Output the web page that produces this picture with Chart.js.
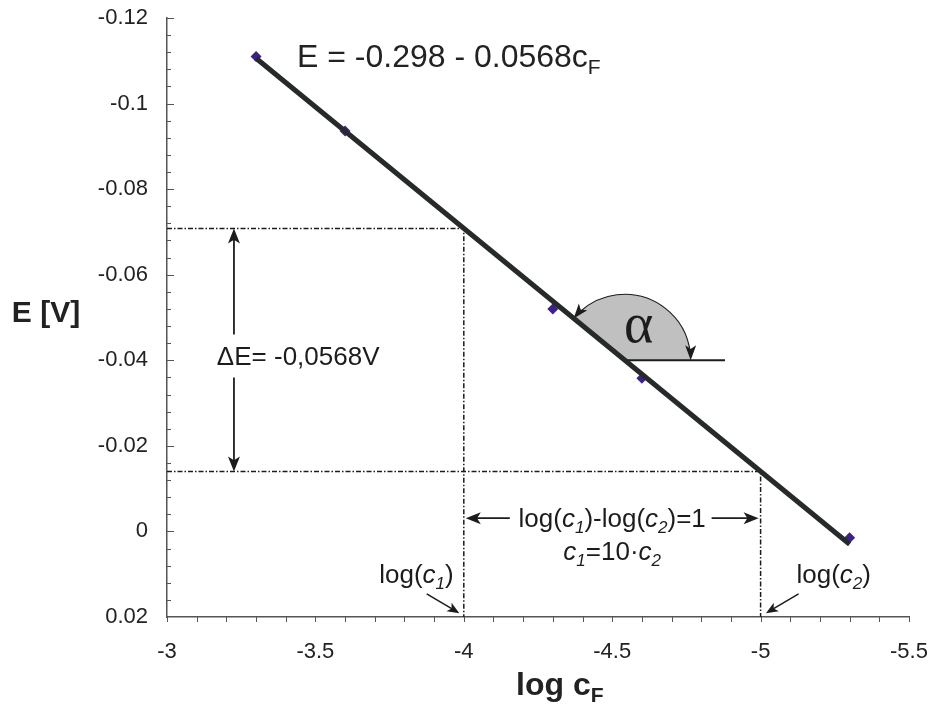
<!DOCTYPE html>
<html>
<head>
<meta charset="utf-8">
<script src="https://cdn.jsdelivr.net/npm/chart.js@4.4.1/dist/chart.umd.min.js"></script>
<style>
  body { margin: 0; background: #fff; }
</style>
</head>
<body>
<canvas id="calib" width="934" height="711"></canvas>
<script>
// measured points (log c_F vs E)
const logC = [-3.3, -3.6, -4.3, -4.6, -5.3];
const potential = [-0.111, -0.0936, -0.052, -0.0358, 0.0015];
// ends of the fitted line E = -0.298 - 0.0568 log c_F
const fitLogC = [-3.3, -5.3];
const fitE = [-0.1106, 0.0030];
// dotted guides at log(c1) = -4 and log(c2) = -5
const guideLogC = [-4, -5];
const guideE = [-0.0708, -0.014];
// tick labels
const xTicks = [-3, -3.5, -4, -4.5, -5, -5.5];
const yTicks = [-0.12, -0.1, -0.08, -0.06, -0.04, -0.02, 0, 0.02];

const ink = "#1c1c1c";
const sans = "'Liberation Sans', Arial, sans-serif";

function head(ctx, x1, y1, x2, y2, len, w) {
    // filled arrow head with tip at x2,y2
    const a = Math.atan2(y2 - y1, x2 - x1);
    const c = Math.cos(a), s = Math.sin(a);
    ctx.beginPath();
    ctx.moveTo(x2, y2);
    ctx.lineTo(x2 - len * c + (w / 2) * s, y2 - len * s - (w / 2) * c);
    ctx.lineTo(x2 - len * 0.75 * c, y2 - len * 0.75 * s);
    ctx.lineTo(x2 - len * c - (w / 2) * s, y2 - len * s + (w / 2) * c);
    ctx.closePath();
    ctx.fill();
}

function arrow(ctx, x1, y1, x2, y2, len, w) {
    const a = Math.atan2(y2 - y1, x2 - x1);
    ctx.beginPath();
    ctx.moveTo(x1, y1);
    ctx.lineTo(x2 - len * 0.7 * Math.cos(a), y2 - len * 0.7 * Math.sin(a));
    ctx.stroke();
    head(ctx, x1, y1, x2, y2, len, w);
}

// parts: [text, italic, subscript]
function rich(ctx, parts, x, y, size, align, weight) {
    weight = weight || "normal";
    const font = (p) =>
        (p[1] ? "italic " : "") + weight + " " + Math.round(p[2] ? size * 0.65 : size) + "px " + sans;
    let total = 0;
    parts.forEach((p) => {
        ctx.font = font(p);
        total += ctx.measureText(p[0]).width;
    });
    let cx = align === "center" ? x - total / 2 : align === "right" ? x - total : x;
    ctx.textAlign = "left";
    ctx.textBaseline = "alphabetic";
    parts.forEach((p) => {
        ctx.font = font(p);
        ctx.fillText(p[0], cx, p[2] ? y + size * 0.22 : y);
        cx += ctx.measureText(p[0]).width;
    });
}

const annotations = {
    id: "annotations",
    beforeDatasetsDraw(chart) {
        const { ctx, scales } = chart;
        const X = (v) => scales.x.getPixelForValue(v);
        const Y = (v) => scales.y.getPixelForValue(v);
        const a = chart.chartArea;
        ctx.save();
        ctx.fillStyle = ink;
        ctx.strokeStyle = ink;

        // dash-dot guides
        ctx.lineWidth = 1.5;
        ctx.setLineDash([5, 2, 1.5, 2]);
        guideLogC.forEach((lc, i) => {
            ctx.beginPath();
            ctx.moveTo(a.left, Y(guideE[i]));
            ctx.lineTo(X(lc), Y(guideE[i]));
            ctx.lineTo(X(lc), a.bottom);
            ctx.stroke();
        });
        ctx.setLineDash([]);

        // angle alpha
        const cx = X(-4.542), cy = Y(-0.04), r = 66;
        const slope = Math.atan2(Y(fitE[1]) - Y(fitE[0]), X(fitLogC[1]) - X(fitLogC[0]));
        const a2 = Math.PI + slope;
        ctx.fillStyle = "#c0c0c0";
        ctx.beginPath();
        ctx.moveTo(cx, cy);
        ctx.arc(cx, cy, r, 0, a2, true);
        ctx.closePath();
        ctx.fill();
        ctx.fillStyle = ink;
        ctx.lineWidth = 1.2;
        ctx.beginPath();
        ctx.arc(cx, cy, r, -0.12, a2 + 0.14, true);
        ctx.stroke();
        head(ctx, cx + r, cy - 14, cx + r, cy, 15, 11);
        const tx = cx + r * Math.cos(a2), ty = cy + r * Math.sin(a2);
        const dx = Math.sin(a2), dy = -Math.cos(a2);
        head(ctx, tx - dx * 14, ty - dy * 14, tx, ty, 15, 11);
        ctx.lineWidth = 2;
        ctx.beginPath();
        ctx.moveTo(cx, cy);
        ctx.lineTo(X(-4.88), cy);
        ctx.stroke();
        ctx.font = "56px 'Liberation Serif', 'DejaVu Serif', serif";
        ctx.textAlign = "center";
        ctx.textBaseline = "middle";
        ctx.fillText("\u03b1", cx + 14, cy - 33);

        // delta E arrow
        ctx.lineWidth = 1.8;
        const ax = X(-3.2256);
        arrow(ctx, ax, Y(-0.046), ax, Y(guideE[0]), 15, 12);
        arrow(ctx, ax, Y(-0.036), ax, Y(guideE[1]), 15, 12);
        rich(ctx, [["\u0394E= -0,0568V"]], X(-3.168), Y(-0.0388), 26, "left");

        // log difference arrow
        const ay = Y(-0.0031);
        arrow(ctx, X(-4.155), ay, X(guideLogC[0]) + 2, ay, 15, 12);
        arrow(ctx, X(-4.835), ay, X(guideLogC[1]) - 2, ay, 15, 12);
        rich(ctx, [["log("], ["c", 1], ["1", 1, 1], [")-log("], ["c", 1], ["2", 1, 1], [")=1"]],
            X(-4.5), ay + 9, 26, "center");
        rich(ctx, [["c", 1], ["1", 1, 1], ["=10\u00b7"], ["c", 1], ["2", 1, 1]],
            X(-4.5), Y(0.0067), 26, "center");

        rich(ctx, [["log("], ["c", 1], ["1", 1, 1], [")"]], X(-3.966), Y(0.0121), 26, "right");
        rich(ctx, [["log("], ["c", 1], ["2", 1, 1], [")"]], X(-5.121), Y(0.0121), 26, "left");
        ctx.lineWidth = 1.5;
        arrow(ctx, X(-3.875), Y(0.0146), X(-3.985), Y(0.0191), 12, 10);
        arrow(ctx, X(-5.128), Y(0.0146), X(-5.018), Y(0.0191), 12, 10);

        // fit equation
        ctx.fillStyle = "#222";
        rich(ctx, [["E = -0.298 - 0.0568c"], ["F", 0, 1]], X(-3.438), Y(-0.1086), 32, "left");
        ctx.restore();
    },
    afterDraw(chart) {
        const { ctx, scales, chartArea: a } = chart;
        ctx.save();
        // small tick marks: inside on y, outside on x
        ctx.strokeStyle = "#555";
        ctx.lineWidth = 1;
        ctx.beginPath();
        const ys = yTicks.slice().sort((p, q) => p - q);
        for (let i = 0; i < ys.length - 1; i++) {
            for (let k = 0; k < 5; k++) {
                const py = Math.round(scales.y.getPixelForValue(ys[i] + ((ys[i + 1] - ys[i]) * k) / 5)) + 0.5;
                ctx.moveTo(a.left, py);
                ctx.lineTo(a.left + (k ? 4 : 7), py);
            }
        }
        const xs = xTicks.slice().sort((p, q) => p - q);
        for (let i = 0; i < xs.length; i++) {
            for (let k = 0; k < (i < xs.length - 1 ? 5 : 1); k++) {
                const v = i < xs.length - 1 ? xs[i] + ((xs[i + 1] - xs[i]) * k) / 5 : xs[i];
                const px = Math.round(scales.x.getPixelForValue(v)) + 0.5;
                ctx.moveTo(px, a.bottom);
                ctx.lineTo(px, a.bottom + 5);
            }
        }
        ctx.stroke();

        // axis titles
        ctx.fillStyle = "#222";
        ctx.font = "bold 30px " + sans;
        ctx.textAlign = "center";
        ctx.textBaseline = "middle";
        ctx.fillText("E [V]", 46, 314);
        rich(ctx, [["log c"], ["F", 0, 1]], 516, 695, 32, "left", "bold");
        ctx.restore();
    },
};

new Chart(document.getElementById("calib"), {
    type: "scatter",
    data: {
        datasets: [
            {
                type: "line",
                label: "fit",
                data: fitLogC.map((v, i) => ({ x: v, y: fitE[i] })),
                borderColor: "#262a2b",
                borderWidth: 5,
                pointRadius: 0,
                fill: false,
                order: 0,
            },
            {
                label: "E",
                data: logC.map((v, i) => ({ x: v, y: potential[i] })),
                pointStyle: "rectRot",
                pointRadius: 5.5,
                backgroundColor: "#3c2188",
                borderColor: "#3c2188",
                borderWidth: 0,
                order: 1,
            },
        ],
    },
    options: {
        responsive: false,
        animation: false,
        layout: { padding: { top: 18, right: 25, left: 0, bottom: 0 } },
        plugins: {
            legend: { display: false },
            tooltip: { enabled: false },
        },
        scales: {
            x: {
                type: "linear",
                min: -5.5,
                max: -3,
                reverse: true,
                afterBuildTicks: (s) => {
                    s.ticks = xTicks.map((v) => ({ value: v }));
                },
                afterFit: (s) => {
                    s.height = 94;
                    s.paddingLeft = 0;
                    s.paddingRight = 0;
                },
                grid: { display: false, drawTicks: false },
                border: { display: true, color: "#555", width: 1.5 },
                ticks: {
                    padding: 22,
                    color: "#222",
                    font: { family: sans, size: 22 },
                    callback: (v) => String(v),
                },
            },
            y: {
                type: "linear",
                min: -0.12,
                max: 0.02,
                reverse: true,
                afterBuildTicks: (s) => {
                    s.ticks = yTicks.map((v) => ({ value: v }));
                },
                afterFit: (s) => {
                    s.width = 167;
                    s.paddingTop = 0;
                    s.paddingBottom = 0;
                },
                grid: { display: false, drawTicks: false },
                border: { display: true, color: "#555", width: 1.5 },
                ticks: {
                    padding: 19,
                    color: "#222",
                    font: { family: sans, size: 22 },
                    callback: (v) => String(v),
                },
            },
        },
    },
    plugins: [annotations],
});
</script>
</body>
</html>
